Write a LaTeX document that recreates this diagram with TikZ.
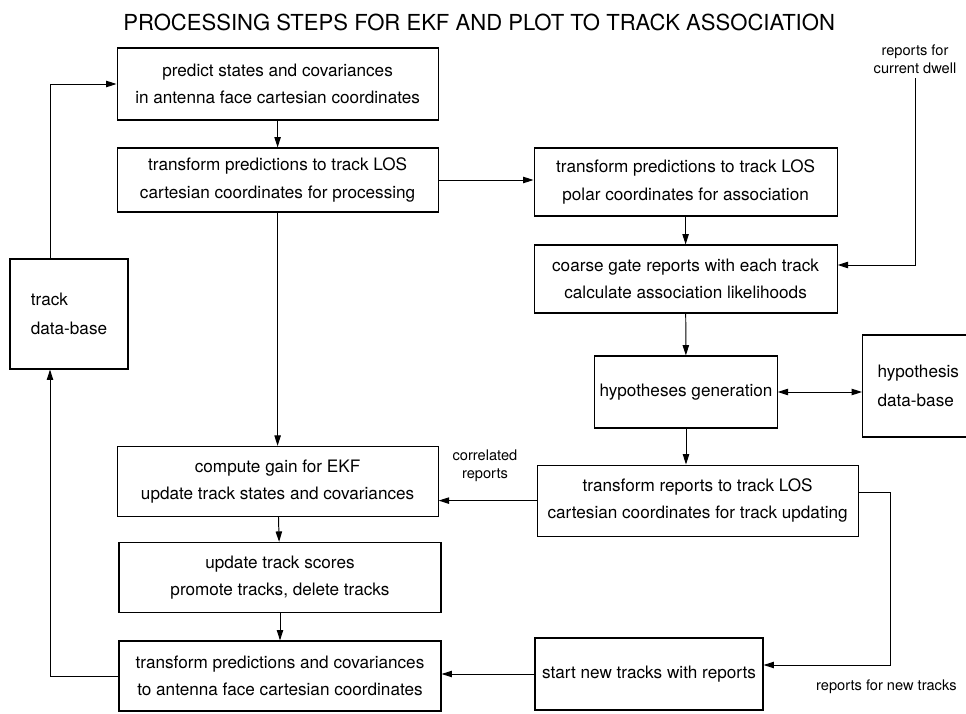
\documentclass[tikz,border=0pt]{standalone}
\usepackage{fontspec}
\setmainfont{TeX Gyre Heros}
\usepackage{tikz}
\usetikzlibrary{arrows.meta, positioning}
\tikzset{
    stepbox/.style={draw, rectangle, line width=0.8pt, minimum width=8.025cm, minimum height=1.75cm, align=center, font={\fontsize{12.2}{19.5}\selectfont}},
    dbbox/.style={stepbox, align=left, font={\fontsize{12.2}{21}\selectfont}},
    flow/.style={-{Triangle[length=2.6mm,width=1.6mm]}, line width=0.7pt},
    bothflow/.style={{Triangle[length=2.6mm,width=1.6mm]}-{Triangle[length=2.6mm,width=1.6mm]}, line width=0.7pt},
    note/.style={font={\fontsize{10.4}{12.5}\selectfont}, align=center},
}

\begin{document}
\begin{tikzpicture}
    \useasboundingbox (0,0) rectangle (24.15,17.825);

    % Heading
    \node[font={\fontsize{15.7}{18}\selectfont}] (heading) at (11.98, 17.275) {PROCESSING STEPS FOR EKF AND PLOT TO TRACK ASSOCIATION};

    % Left column: filter cycle
    \node[stepbox, minimum height=1.8cm] (predict) at (6.94, 15.725) {predict states and covariances\\in antenna face cartesian coordinates};
    \node[stepbox, minimum height=1.6cm] (tlos) at (6.94, 13.325) {transform predictions to track LOS\\cartesian coordinates for processing};
    \node[stepbox] (gain) at (6.94, 5.79) {compute gain for EKF\\update track states and covariances};
    \node[stepbox, minimum width=8.05cm] (scores) at (7.0, 3.39) {update track scores\\promote tracks, delete tracks};
    \node[stepbox, minimum width=8.05cm] (toface) at (7.0, 0.925) {transform predictions and covariances\\to antenna face cartesian coordinates};

    % Track store
    \node[dbbox, minimum width=2.95cm, minimum height=2.75cm] (trackdb) at (1.725, 9.975) {track\\data-base};

    % Right column: association
    \node[stepbox, minimum width=7.575cm, minimum height=1.7cm] (polar) at (17.14, 13.275) {transform predictions to track LOS\\polar coordinates for association};
    \node[stepbox, minimum width=7.575cm, minimum height=1.7cm] (gate) at (17.14, 10.85) {coarse gate reports with each track\\calculate association likelihoods};
    \node[stepbox, minimum width=4.5cm, minimum height=1.8cm] (hypgen) at (17.15, 8.025) {hypotheses generation};
    \node[dbbox, minimum width=3.05cm, minimum height=2.55cm, text width=2.3cm] (hypdb) at (23.09, 8.175) {hypothesis\\data-base};
    \node[stepbox, minimum height=1.775cm] (toupdate) at (17.44, 5.31) {transform reports to track LOS\\cartesian coordinates for track updating};
    \node[stepbox, minimum width=5.7cm, minimum height=1.8cm] (newtracks) at (16.225, 0.975) {start new tracks with reports};

    % Labels on the report paths
    \node[note] (dwell) at (22.875, 16.35) {reports for\\current dwell};
    \node[note] (correl) at (12.125, 6.175) {correlated\\reports};
    \node[note] (fornew) at (22.16, 0.65) {reports for new tracks};

    % Bend points
    \coordinate (loopx) at (1.25, 0);
    \coordinate (ntbend) at (22.25, 1.2);

    % Filter cycle arrows
    \draw[flow] (trackdb.north -| loopx) |- (predict.west);
    \draw[flow] (predict) -- (tlos);
    \draw[flow] (tlos) -- (gain);
    \draw[flow] (gain) -- (scores);
    \draw[flow] (scores) -- (toface);
    \draw[flow] (toface.west) -| (trackdb.south -| loopx);

    % Association arrows
    \draw[flow] (tlos.east) -- (tlos.east -| polar.west);
    \draw[flow] (polar) -- (gate);
    \draw[flow] (dwell.south) |- ([yshift=3.5mm]gate.east);
    \draw[flow] (gate) -- (hypgen);
    \draw[bothflow] (hypgen.east) -- (hypgen.east -| hypdb.west);
    \draw[flow] (hypgen.south) -- (hypgen.south |- toupdate.north);
    \draw[flow] (toupdate.west) -- (toupdate.west -| gain.east);
    \draw[flow] ([yshift=2mm]toupdate.east) -| (ntbend) -- (ntbend -| newtracks.east);
    \draw[flow] (newtracks.west) -- (newtracks.west -| toface.east);
\end{tikzpicture}
\end{document}
